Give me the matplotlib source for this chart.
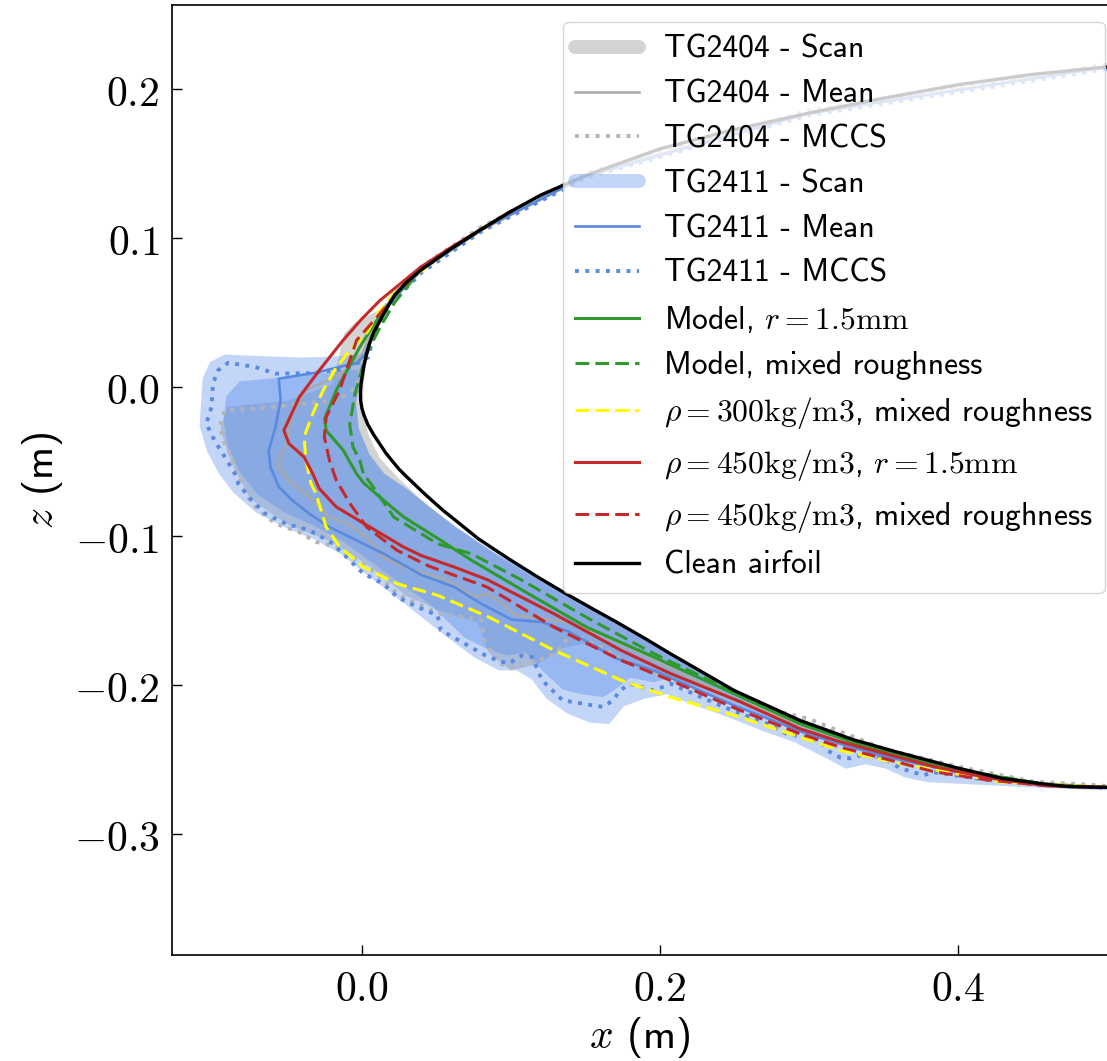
"""Ice shapes on the airfoil leading edge: scans, means, MCCS and model runs."""

import numpy as np
import matplotlib.pyplot as plt
from matplotlib.lines import Line2D
from matplotlib.ticker import FuncFormatter, MultipleLocator

plt.rcParams['mathtext.fontset'] = 'cm'

# clean airfoil, upper trailing side -> leading edge -> lower side
airfoil_x = [0.5, 0.45, 0.40, 0.35, 0.30, 0.25, 0.20, 0.15, 0.12, 0.10, 0.08, 0.06, 0.04,
             0.03, 0.022, 0.015, 0.008, 0.005, 0.003, 0.0015, 0.0005, -0.0005, -0.001,
             -0.0008, 0.0, 0.0015, 0.004, 0.008, 0.012, 0.016, 0.02, 0.025, 0.03, 0.036,
             0.042, 0.048, 0.055, 0.065, 0.078, 0.09, 0.10, 0.118, 0.137, 0.155, 0.17,
             0.19, 0.207, 0.25, 0.294, 0.33, 0.36, 0.40, 0.43, 0.46, 0.475, 0.5]
airfoil_z = [0.215, 0.210, 0.203, 0.194, 0.184, 0.173, 0.160, 0.142, 0.129, 0.118, 0.106,
             0.093, 0.079, 0.0705, 0.062, 0.050, 0.037, 0.029, 0.022, 0.015, 0.009, 0.003,
             -0.003, -0.009, -0.014, -0.019, -0.025, -0.032, -0.038, -0.044, -0.049,
             -0.055, -0.060, -0.0657, -0.0714, -0.0768, -0.083, -0.091, -0.1015, -0.1095,
             -0.116, -0.1273, -0.1385, -0.1487, -0.157, -0.1685, -0.1787, -0.2035, -0.2235,
             -0.2365, -0.245, -0.2555, -0.2625, -0.2665, -0.268, -0.2685]

# TG2404 scan outline (outer edge, starts near the upper leading edge)
scan04_x = [0.012, -0.004, -0.012, -0.016, -0.02, -0.05, -0.09, -0.095, -0.088, -0.075,
            -0.05, -0.02, 0.005, 0.03, 0.055, 0.078, 0.085, 0.1, 0.118, 0.135, 0.15, 0.175,
            0.21, 0.25, 0.3, 0.35, 0.4, 0.45, 0.5]
scan04_z = [0.052, 0.044, 0.036, 0.018, 0.002, -0.009, -0.013, -0.028, -0.05, -0.075,
            -0.092, -0.104, -0.12, -0.14, -0.151, -0.158, -0.178, -0.19, -0.186, -0.175,
            -0.172, -0.185, -0.196, -0.209, -0.226, -0.242, -0.2555, -0.265, -0.2685]
# TG2404 scan: inner edge off the leading edge (bottom -> top)
scan04_in_x = [0.12, 0.09, 0.06, 0.04, 0.025, 0.012, 0.004, 0.0, 0.002, 0.005, 0.010]
scan04_in_z = [-0.1305, -0.1125, -0.092, -0.0755, -0.0615, -0.0475, -0.031, -0.012, 0.01,
               0.03, 0.045]

# TG2411 scan: outer envelope
scan11_x = [0.004, -0.01, -0.04, -0.07, -0.092, -0.102, -0.107, -0.108, -0.109, -0.104,
            -0.096, -0.086, -0.071, -0.052, -0.032, -0.014, 0.002, 0.018, 0.036, 0.055,
            0.075, 0.092, 0.104, 0.114, 0.124, 0.138, 0.153, 0.166, 0.176, 0.19, 0.205,
            0.222, 0.245, 0.27, 0.29, 0.31, 0.325, 0.338, 0.352, 0.365, 0.38, 0.42, 0.46, 0.5]
scan11_z = [0.024, 0.021, 0.020, 0.021, 0.022, 0.017, 0.006, -0.01, -0.026, -0.043,
            -0.058, -0.071, -0.084, -0.094, -0.102, -0.112, -0.125, -0.137, -0.151, -0.166,
            -0.181, -0.19, -0.19, -0.196, -0.209, -0.219, -0.225, -0.226, -0.214, -0.209,
            -0.206, -0.213, -0.221, -0.231, -0.238, -0.248, -0.256, -0.253, -0.256, -0.262,
            -0.265, -0.267, -0.269, -0.2705]
# TG2411 scan: dense core
core11_x = [-0.002, -0.03, -0.06, -0.082, -0.091, -0.093, -0.09, -0.082, -0.07, -0.052,
            -0.032, -0.012, 0.006, 0.025, 0.045, 0.0689, 0.0848, 0.098, 0.11, 0.121, 0.135,
            0.148, 0.162, 0.17, 0.18, 0.196, 0.207, 0.24, 0.28, 0.32, 0.36, 0.4, 0.45, 0.5]
core11_z = [0.012, 0.009, 0.006, 0.004, -0.006, -0.022, -0.04, -0.057, -0.072, -0.084,
            -0.093, -0.104, -0.117, -0.131, -0.145, -0.168, -0.176, -0.18, -0.178, -0.19,
            -0.203, -0.206, -0.208, -0.203, -0.195, -0.198, -0.195, -0.21, -0.225, -0.24,
            -0.25, -0.259, -0.2665, -0.2692]
# TG2411 scan: inner edge near the leading edge (bottom -> top)
gap11_x = [0.12, 0.09, 0.065, 0.045, 0.03, 0.015, 0.005, -0.002, -0.004, 0.0, 0.004]
gap11_z = [-0.1285, -0.1115, -0.095, -0.080, -0.068, -0.058, -0.045, -0.028, -0.01,
           0.008, 0.024]

mean04_x = [0.5, 0.3, 0.15, 0.08, 0.04, 0.02, 0.008, 0.0, -0.01, -0.02, -0.0376, -0.0467,
            -0.050, -0.0546, -0.0558, -0.049, -0.0354, -0.0218, -0.008, 0.0054, 0.0145,
            0.028, 0.0463, 0.0576, 0.0757, 0.0848, 0.094, 0.103, 0.119, 0.137, 0.16, 0.2,
            0.25, 0.30, 0.35, 0.40, 0.45, 0.5]
mean04_z = [0.2152, 0.1845, 0.1425, 0.1065, 0.0795, 0.059, 0.040, 0.022, 0.012, 0.006,
            -0.002, -0.0177, -0.0356, -0.0468, -0.0535, -0.0624, -0.0736, -0.087, -0.0926,
            -0.1027, -0.1139, -0.1206, -0.126, -0.1295, -0.1407, -0.1385, -0.1452, -0.153,
            -0.155, -0.1575, -0.166, -0.185, -0.209, -0.229, -0.2445, -0.2565, -0.2652,
            -0.2686]

mccs04_x = [0.5, 0.3, 0.15, 0.08, 0.04, 0.02, 0.008, 0.0, -0.004, -0.0166, -0.049, -0.0716,
            -0.092, -0.0955, -0.092, -0.0875, -0.083, -0.0785, -0.0694, -0.058, -0.0422,
            -0.0308, -0.0172, -0.0036, 0.010, 0.0236, 0.0417, 0.053, 0.0667, 0.080, 0.0825,
            0.0916, 0.103, 0.119, 0.130, 0.137, 0.1415, 0.1597, 0.1755, 0.20, 0.23, 0.26,
            0.30, 0.35, 0.40, 0.45, 0.5]
mccs04_z = [0.2165, 0.1858, 0.1435, 0.1075, 0.081, 0.0605, 0.042, 0.02, 0.0, -0.0087,
            -0.012, -0.0143, -0.0154, -0.0266, -0.0378, -0.0468, -0.060, -0.0714, -0.0826,
            -0.0915, -0.0971, -0.1038, -0.107, -0.116, -0.125, -0.1385, -0.1474, -0.152,
            -0.154, -0.156, -0.170, -0.1855, -0.1877, -0.1832, -0.1787, -0.170, -0.1653,
            -0.174, -0.183, -0.193, -0.205, -0.213, -0.2225, -0.2425, -0.2545, -0.2645,
            -0.2675]

mean11_x = [0.5, 0.3, 0.15, 0.08, 0.04, 0.02, 0.008, 0.002, -0.0036, -0.0104, -0.03,
            -0.0558, -0.0546, -0.058, -0.0626, -0.0614, -0.0558, -0.0467, -0.0354, -0.0218,
            -0.0036, 0.0145, 0.04, 0.0621, 0.080, 0.1007, 0.121, 0.139, 0.157, 0.171, 0.182,
            0.196, 0.25, 0.30, 0.35, 0.40, 0.45, 0.5]
mean11_z = [0.2148, 0.1838, 0.1415, 0.1055, 0.0785, 0.058, 0.038, 0.022, 0.016, 0.0148,
            0.010, 0.0058, -0.0087, -0.0266, -0.0423, -0.0535, -0.0669, -0.0758, -0.0848,
            -0.0938, -0.1027, -0.1116, -0.126, -0.134, -0.1452, -0.156, -0.1575, -0.164,
            -0.174, -0.182, -0.1855, -0.190, -0.2135, -0.233, -0.2475, -0.2585, -0.2655,
            -0.2688]

mccs11_x = [0.5, 0.3, 0.15, 0.08, 0.04, 0.02, 0.008, 0.004, -0.01, -0.035, -0.058, -0.0716,
            -0.0898, -0.0966, -0.100, -0.101, -0.1045, -0.099, -0.092, -0.0853, -0.083,
            -0.074, -0.0648, -0.0512, -0.040, -0.0308, -0.0195, -0.0104, 0.001, 0.0145,
            0.0236, 0.0372, 0.0508, 0.053, 0.0689, 0.0848, 0.0984, 0.1075, 0.1143, 0.121,
            0.1347, 0.148, 0.162, 0.1687, 0.1733, 0.180, 0.196, 0.2073, 0.243, 0.272,
            0.285, 0.3078, 0.3123, 0.3212, 0.3279, 0.339, 0.3526, 0.3615, 0.377, 0.3838,
            0.42, 0.46, 0.5]
mccs11_z = [0.2135, 0.1825, 0.1405, 0.1045, 0.077, 0.0565, 0.034, 0.02, 0.0125, 0.0095,
            0.0092, 0.0136, 0.0165, 0.0114, 0.0025, -0.0132, -0.0244, -0.0356, -0.0468,
            -0.058, -0.0647, -0.0758, -0.0848, -0.0915, -0.0945, -0.0982, -0.105, -0.1139,
            -0.125, -0.1318, -0.1407, -0.1474, -0.153, -0.163, -0.172, -0.181, -0.1855,
            -0.180, -0.181, -0.1966, -0.210, -0.2123, -0.2145, -0.210, -0.2034, -0.199,
            -0.2034, -0.199, -0.2145, -0.2257, -0.2325, -0.237, -0.2436, -0.2485, -0.249,
            -0.2456, -0.2503, -0.2556, -0.2604, -0.2583, -0.2635, -0.267, -0.2688]

green_x = [0.10, 0.06, 0.04, 0.02, 0.008, -0.0014, -0.0172, -0.025, -0.024, -0.0127,
           -0.0036, 0.001, 0.0145, 0.028, 0.053, 0.0735, 0.1075, 0.151, 0.196, 0.254,
           0.294, 0.339, 0.40, 0.46, 0.5]
green_z = [0.118, 0.0935, 0.080, 0.059, 0.042, 0.027, -0.002, -0.021, -0.029, -0.042,
           -0.058, -0.064, -0.0758, -0.087, -0.1027, -0.116, -0.136, -0.161, -0.181,
           -0.2075, -0.2257, -0.2414, -0.257, -0.2668, -0.2685]

green_mixed_x = [0.10, 0.06, 0.04, 0.022, 0.012, 0.0043, 0.0, -0.0048, -0.0082, -0.006,
                 -0.0014, 0.001, 0.0077, 0.0213, 0.0508, 0.0735, 0.1075, 0.151, 0.196,
                 0.254, 0.294, 0.339, 0.40, 0.46, 0.5]
green_mixed_z = [0.118, 0.093, 0.0795, 0.057, 0.040, 0.0248, 0.012, -0.005, -0.025, -0.040,
                 -0.049, -0.058, -0.067, -0.087, -0.105, -0.1117, -0.1295, -0.1545,
                 -0.1787, -0.2065, -0.2245, -0.2405, -0.2565, -0.2666, -0.2685]

yellow_x = [0.10, 0.07, 0.045, 0.024, 0.011, 0.0036, -0.008, -0.018, -0.026, -0.033,
            -0.0388, -0.0376, -0.0342, -0.0308, -0.024, -0.015, 0.001, 0.0236, 0.0508,
            0.0848, 0.129, 0.174, 0.207, 0.254, 0.294, 0.321, 0.362, 0.429, 0.5]
yellow_z = [0.118, 0.100, 0.082, 0.066, 0.050, 0.037, 0.025, 0.012, -0.002, -0.0177,
            -0.0333, -0.049, -0.0646, -0.0714, -0.0938, -0.107, -0.1206, -0.1318, -0.1396,
            -0.154, -0.1765, -0.1966, -0.2079, -0.2213, -0.2347, -0.2436, -0.2526, -0.2649,
            -0.2685]

red_x = [0.10, 0.06, 0.0395, 0.0122, 0.0, -0.0127, -0.0286, -0.042, -0.0524, -0.049,
         -0.0388, -0.033, -0.0286, -0.0172, 0.0054, 0.028, 0.040, 0.062, 0.084, 0.129,
         0.174, 0.207, 0.254, 0.294, 0.32, 0.35, 0.384, 0.42, 0.46, 0.5]
red_z = [0.118, 0.094, 0.0807, 0.0584, 0.046, 0.0315, 0.0114, -0.0065, -0.0289, -0.0378,
         -0.0468, -0.058, -0.068, -0.0803, -0.0938, -0.1072, -0.113, -0.1206, -0.129,
         -0.152, -0.1765, -0.192, -0.211, -0.2291, -0.2375, -0.2455, -0.2545, -0.262,
         -0.2675, -0.2685]

red_mixed_x = [0.10, 0.06, 0.04, 0.025, 0.010, -0.0036, -0.0082, -0.015, -0.024, -0.0252,
               -0.0218, -0.0172, -0.008, 0.0032, 0.0236, 0.045, 0.084, 0.129, 0.174,
               0.207, 0.254, 0.294, 0.321, 0.35, 0.384, 0.42, 0.456, 0.5]
red_mixed_z = [0.118, 0.0935, 0.0795, 0.065, 0.047, 0.0315, 0.018, -0.002, -0.020,
               -0.0333, -0.049, -0.0624, -0.078, -0.0938, -0.1094, -0.120, -0.134, -0.161,
               -0.1832, -0.1966, -0.2168, -0.2324, -0.2414, -0.249, -0.258, -0.2635,
               -0.267, -0.2685]

labels = ['TG2404 - Scan', 'TG2404 - Mean', 'TG2404 - MCCS',
          'TG2411 - Scan', 'TG2411 - Mean', 'TG2411 - MCCS',
          r'Model, $r = 1.5\mathrm{mm}$', 'Model, mixed roughness',
          r'$\rho = 300\mathrm{kg/m3}$, mixed roughness',
          r'$\rho = 450\mathrm{kg/m3}$, $r = 1.5\mathrm{mm}$',
          r'$\rho = 450\mathrm{kg/m3}$, mixed roughness',
          'Clean airfoil']

GREY_SCAN = 'lightgrey'
GREY_LINE = '#a9a9a9'
GREY_DOT = '#b4b4b4'
BLUE_SCAN = 'cornflowerblue'
BLUE_LINE = '#5a8ae0'
GREEN = '#2e9a2e'
RED = '#c4292b'
YELLOW = '#ffff00'

fig = plt.figure(figsize=(11.07, 10.61), dpi=100)
ax = fig.add_axes([0.1554, 0.0999, 0.8455, 0.8954])

af_x = np.array(airfoil_x)
af_z = np.array(airfoil_z)
i_le = int(np.argmin(af_x))
low_x, low_z = af_x[i_le:], af_z[i_le:]
keep = low_x > 0.125

# TG2404 scan: outer outline, back along the lower surface and the inner edge
ax.fill(np.concatenate([scan04_x, low_x[keep][::-1], scan04_in_x]),
        np.concatenate([scan04_z, low_z[keep][::-1], scan04_in_z]),
        color=GREY_SCAN, lw=0, zorder=1)

# TG2411 scan: envelope and core, closed along the airfoil and the inner edge
ax.fill(np.concatenate([scan11_x, low_x[keep][::-1], gap11_x]),
        np.concatenate([scan11_z, low_z[keep][::-1], gap11_z]),
        color=BLUE_SCAN, alpha=0.38, lw=0, zorder=1.1)
ax.fill(np.concatenate([core11_x, low_x[keep][::-1], gap11_x]),
        np.concatenate([core11_z, low_z[keep][::-1], gap11_z]),
        color=BLUE_SCAN, alpha=0.45, lw=0, zorder=1.2)

mean04, = ax.plot(mean04_x, mean04_z, color=GREY_LINE, lw=1.8, zorder=2)
mccs04, = ax.plot(mccs04_x, mccs04_z, color=GREY_DOT, lw=2.8, ls=':', zorder=2)
mean11, = ax.plot(mean11_x, mean11_z, color=BLUE_LINE, lw=1.9, zorder=2.1)
mccs11, = ax.plot(mccs11_x, mccs11_z, color=BLUE_LINE, lw=2.8, ls=':', zorder=2.1)

g1, = ax.plot(green_x, green_z, color=GREEN, lw=2.2, zorder=3)
g2, = ax.plot(green_mixed_x, green_mixed_z, color=GREEN, lw=2.2, dashes=(4.5, 2), zorder=3)
y1, = ax.plot(yellow_x, yellow_z, color=YELLOW, lw=2.2, dashes=(4.5, 2), zorder=3)
r1, = ax.plot(red_x, red_z, color=RED, lw=2.2, zorder=3)
r2, = ax.plot(red_mixed_x, red_mixed_z, color=RED, lw=2.2, dashes=(4.5, 2), zorder=3)
clean, = ax.plot(airfoil_x, airfoil_z, color='black', lw=2.4, zorder=4)

h_scan04 = Line2D([], [], color=GREY_SCAN, lw=10, solid_capstyle='round')
h_scan11 = Line2D([], [], color=BLUE_SCAN, alpha=0.38, lw=10, solid_capstyle='round')
handles = [h_scan04, mean04, mccs04, h_scan11, mean11, mccs11, g1, g2, y1, r1, r2, clean]

ax.legend(handles, labels, loc='upper right', bbox_to_anchor=(0.997, 0.982),
          borderaxespad=0, prop={'family': 'cmss10', 'size': 22.8})

ax.set_xlim(-0.1275, 0.501)
ax.set_ylim(-0.381, 0.2566)
ax.xaxis.set_major_locator(MultipleLocator(0.2))
ax.yaxis.set_major_locator(MultipleLocator(0.1))
fmt = FuncFormatter(lambda v, p: '$%.1f$' % (0.0 if abs(v) < 1e-9 else v))
ax.xaxis.set_major_formatter(fmt)
ax.yaxis.set_major_formatter(fmt)
ax.tick_params(direction='in', length=7, width=1, labelsize=30, pad=9)
for s in ax.spines.values():
    s.set_linewidth(1.2)

ax.set_xlabel(r'$x$ (m)', fontsize=30, family='cmss10', labelpad=4)
ax.set_ylabel(r'$z$ (m)', fontsize=30, family='cmss10', labelpad=6)

fig.savefig('out.png', dpi=100)
